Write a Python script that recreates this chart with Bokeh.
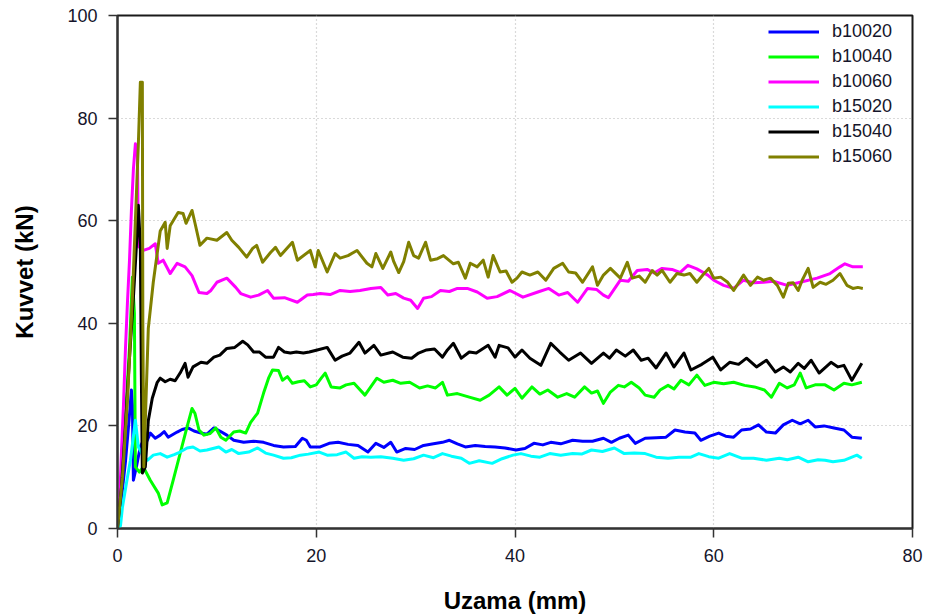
from bokeh.plotting import figure
from bokeh.models import Range1d, FixedTicker, Legend, LegendItem
from bokeh.embed import file_html
from bokeh.resources import INLINE

# ---- data (Uzama mm, Kuvvet kN) ----
b10020 = [(0,0),(0.4,6),(0.8,13),(1.2,22),(1.4,27),(1.5,24),(1.6,9.4),(1.9,12),(2.3,16),(2.7,17.5),(3.0,17.2),(3.3,18.6),(3.8,17.6),(4.3,18.2),(4.7,18.9),(5.1,17.8),(6.0,18.8),(6.5,19.3),(7.1,19.6),(7.7,19.0),(8.4,18.6),(9.0,18.4),(9.7,19.6),(10.3,19.0),(11.0,18.2),(11.7,17.2),(12.7,16.8),(13.7,17.0),(14.7,16.8),(15.7,16.2),(16.7,15.9),(17.9,16.0),(18.6,17.6),(19.0,17.2),(19.4,15.9),(20.4,15.9),(21.3,16.6),(22.2,16.8),(23.2,16.4),(24.2,16.2),(25.2,14.9),(26.0,16.6),(26.8,15.8),(27.5,16.8),(28.1,14.9),(29.0,15.6),(29.9,15.4),(30.8,16.2),(31.8,16.5),(32.7,16.8),(33.4,17.2),(34.2,16.5),(35.0,15.9),(36.0,16.2),(37.0,16.0),(38.0,15.9),(39.0,15.7),(40.1,15.3),(41.0,15.6),(41.9,16.6),(42.8,16.3),(43.6,16.8),(44.6,16.5),(45.8,17.2),(46.8,17.0),(47.8,17.0),(48.9,17.6),(49.7,16.8),(50.5,17.6),(51.4,18.2),(52.1,16.6),(53.1,17.6),(54.2,17.7),(55.2,17.8),(56.1,19.2),(57.1,18.8),(58.1,18.6),(58.7,17.2),(59.6,18.0),(60.5,18.6),(61.2,18.0),(62.0,17.8),(62.8,19.2),(63.7,19.4),(64.5,20.2),(65.3,18.8),(66.2,18.6),(67.0,20.2),(67.9,21.1),(68.7,20.4),(69.5,21.1),(70.2,19.8),(71.1,20.0),(72.1,19.6),(73.1,19.2),(73.9,17.8),(74.9,17.6)]

b10040 = [(0,0),(0.4,10),(0.8,22),(1.2,35),(1.5,49),(1.7,42),(1.8,12),(2.2,11),(2.6,12),(3.3,9.4),(4.1,6.9),(4.5,4.6),(5.0,5.0),(5.6,9.4),(6.3,14.6),(7.0,19.8),(7.5,23.4),(7.8,22.4),(8.2,19.2),(8.7,18.2),(9.3,18.5),(9.9,19.6),(10.4,17.8),(10.9,17.2),(11.7,18.8),(12.3,19.0),(12.9,18.6),(13.4,20.7),(14.1,22.5),(14.7,26.4),(15.2,29.3),(15.6,30.9),(16.2,30.8),(16.6,28.9),(17.1,29.6),(17.6,28.3),(18.2,28.6),(18.8,28.8),(19.4,27.6),(20.0,28.0),(20.5,29.3),(20.9,30.3),(21.5,27.6),(22.4,27.4),(23.0,28.0),(23.8,28.3),(24.9,26.0),(26.1,29.3),(26.8,28.5),(27.7,28.9),(28.5,28.3),(29.4,28.5),(30.4,27.4),(31.2,27.8),(32.0,27.4),(32.7,28.5),(33.2,26.0),(34.2,26.3),(35.4,25.6),(36.5,25.0),(37.4,26.0),(38.4,27.6),(39.2,26.0),(40.0,27.3),(40.7,25.4),(41.7,27.6),(42.5,26.2),(43.3,27.0),(44.3,25.6),(45.2,26.3),(46.0,25.6),(47.0,27.6),(47.7,26.4),(48.3,26.8),(48.9,24.4),(49.6,26.6),(50.4,27.9),(51.0,27.6),(51.7,28.5),(52.5,27.4),(53.1,26.0),(54.0,25.6),(54.6,27.0),(55.4,27.9),(56.0,27.2),(56.7,28.9),(57.5,28.0),(58.3,29.9),(59.1,27.9),(60.0,28.5),(61.0,28.2),(62.0,28.5),(63.1,27.9),(64.1,27.6),(65.1,27.0),(65.8,25.6),(66.6,28.3),(67.4,27.4),(68.1,28.0),(68.7,30.3),(69.3,27.4),(70.2,28.0),(71.2,28.0),(72.1,27.0),(73.1,28.3),(73.9,28.0),(74.9,28.5)]

b10060 = [(0,0),(0.2,5),(0.4,15),(0.6,24),(0.8,35),(1.0,44),(1.2,52),(1.4,62),(1.6,70),(1.8,75),(2.0,74),(2.1,55),(2.6,54.2),(3.2,54.6),(3.8,55.5),(4.1,51.7),(4.6,52.3),(5.3,49.7),(6.0,51.7),(6.8,51.0),(7.5,49.3),(8.2,46.0),(9.0,45.8),(9.4,46.4),(10.0,48.0),(11.0,48.8),(11.9,47.0),(12.4,45.8),(13.4,45.1),(14.2,45.5),(15.1,46.4),(15.7,44.9),(16.8,45.0),(18.1,44.1),(19.1,45.5),(19.7,45.6),(20.4,45.8),(21.4,45.6),(22.4,46.4),(23.4,46.2),(24.4,46.4),(25.5,46.8),(26.5,47.0),(27.2,45.5),(28.0,45.8),(28.8,44.9),(29.5,44.5),(30.2,42.9),(30.8,44.9),(31.6,45.2),(32.5,46.4),(33.4,46.2),(34.2,46.8),(35.2,46.8),(36.2,46.1),(37.2,44.9),(38.2,45.2),(39.5,46.4),(40.8,45.1),(42.3,46.1),(43.4,46.8),(44.4,45.5),(45.3,46.0),(46.3,44.1),(47.3,46.8),(48.2,46.6),(48.9,45.5),(49.4,45.0),(49.9,46.4),(50.6,48.4),(51.4,48.2),(52.3,50.3),(53.3,50.5),(54.0,49.8),(54.8,50.7),(55.8,50.5),(56.6,49.9),(57.4,51.3),(58.3,50.6),(59.4,49.4),(60.0,48.4),(61.0,47.4),(62.0,46.8),(63.0,48.4),(64.0,47.9),(65.0,48.0),(66.0,48.2),(67.4,47.4),(68.7,48.0),(70.4,48.8),(71.7,49.7),(72.7,51.0),(73.2,51.6),(74.0,51.0),(75.0,51.0)]

b15020 = [(0,0),(0.3,0.5),(0.5,4.2),(1.0,10.0),(1.3,13.3),(1.8,21.1),(2.1,15.9),(2.5,14.5),(3.0,13.3),(3.6,14.3),(4.3,14.6),(5.0,13.9),(5.7,14.4),(6.3,14.9),(7.0,15.7),(7.6,15.9),(8.3,15.1),(9.0,15.3),(9.6,15.6),(10.2,15.9),(10.9,14.9),(11.5,15.4),(12.2,14.6),(13.2,14.9),(14.1,15.7),(14.9,14.7),(15.7,14.3),(16.7,13.7),(17.5,13.8),(18.4,14.3),(19.2,14.5),(20.3,14.9),(21.1,14.3),(22.1,14.4),(23.0,14.9),(23.8,13.7),(24.6,14.0),(25.5,13.9),(26.5,14.0),(27.7,13.7),(28.8,13.3),(29.8,13.6),(30.8,14.3),(31.8,13.8),(32.7,14.6),(33.6,14.1),(34.6,13.7),(35.4,12.7),(36.4,13.2),(37.7,12.7),(38.7,13.6),(39.8,14.3),(40.6,14.6),(41.6,14.1),(42.5,13.9),(43.5,14.6),(44.6,14.3),(45.8,14.6),(46.7,14.5),(47.7,15.3),(48.8,15.0),(50.0,15.7),(51.0,14.6),(52.0,14.7),(53.1,14.6),(54.2,13.9),(55.4,13.7),(56.5,13.9),(57.7,13.9),(58.5,14.6),(59.5,14.0),(60.5,13.7),(61.6,14.6),(62.8,13.7),(64.0,13.7),(65.3,13.3),(66.6,13.7),(67.4,13.4),(68.5,13.9),(69.5,13.0),(70.5,13.4),(71.2,13.3),(72.0,13.0),(73.1,13.3),(74.4,14.3),(74.9,13.7)]

b15040 = [(0,0),(0.4,8),(0.8,20),(1.2,33),(1.6,45),(1.9,55),(2.1,63),(2.3,55),(2.4,30),(2.5,10.8),(2.8,12),(3.1,21),(3.5,25.4),(4.0,28.5),(4.3,29.3),(4.8,28.6),(5.3,29.1),(5.8,28.8),(6.3,30.3),(6.8,32.2),(7.1,29.5),(7.6,31.5),(8.4,32.4),(9.0,32.2),(9.7,33.4),(10.3,33.8),(11.0,35.1),(11.8,35.3),(12.6,36.5),(13.1,35.8),(13.7,34.4),(14.3,34.4),(14.9,33.4),(15.7,33.4),(16.2,35.3),(16.8,34.4),(17.4,34.2),(18.0,34.4),(18.7,34.2),(19.3,34.4),(20.1,34.8),(21.1,35.3),(21.9,32.8),(22.6,33.6),(23.4,34.2),(24.3,36.3),(24.9,34.2),(25.8,35.7),(26.5,33.8),(27.7,34.4),(28.7,33.4),(29.6,33.2),(30.3,34.2),(31.1,34.8),(31.9,35.0),(32.7,33.4),(33.2,34.8),(33.8,36.1),(34.6,33.2),(35.4,34.4),(36.1,34.2),(37.3,35.7),(38.0,33.4),(38.4,35.7),(39.3,35.2),(40.0,33.4),(40.7,34.8),(41.5,33.2),(42.6,31.8),(43.6,36.1),(44.5,34.4),(45.4,32.8),(46.6,34.2),(47.7,32.2),(48.9,34.2),(49.5,33.2),(50.2,34.8),(51.1,33.6),(51.9,34.8),(52.7,32.8),(53.4,33.2),(54.2,31.3),(55.2,34.2),(56.0,31.5),(57.0,34.2),(57.7,30.9),(58.8,32.0),(59.9,33.4),(60.7,30.9),(61.6,32.4),(62.5,32.0),(63.3,33.2),(64.3,31.5),(65.3,32.8),(66.2,30.5),(67.0,31.5),(67.7,30.5),(68.5,32.2),(69.1,31.2),(69.8,32.8),(70.6,30.3),(71.8,32.4),(72.5,31.5),(73.1,31.8),(73.9,28.9),(74.9,32.2)]

b15060 = [(0,0),(0.5,10),(1.0,25),(1.5,45),(1.9,65),(2.1,75),(2.3,87),(2.5,87),(2.55,40),(2.65,12),(3.1,39),(3.6,48),(4.3,58),(4.8,59.7),(5.0,54.6),(5.3,59),(6.1,61.6),(6.6,61.4),(6.9,59.5),(7.5,62),(7.8,59.5),(8.3,55.2),(9.0,56.6),(10.0,56.2),(11.0,57.7),(11.5,56.2),(12.2,54.8),(13.0,52.9),(13.6,54.6),(14.0,55.2),(14.6,51.9),(15.4,53.8),(15.9,54.8),(16.4,53.2),(17.6,55.8),(18.1,52.3),(19.4,54.2),(19.9,51.0),(20.2,54.2),(21.1,50.0),(21.9,53.6),(22.4,52.7),(23.2,53.2),(24.1,54.2),(25.1,51.7),(25.6,51.0),(26.0,53.6),(26.7,50.7),(27.5,53.9),(27.8,52.0),(28.3,49.9),(28.8,52.0),(29.3,55.8),(29.8,53.2),(30.3,52.7),(31.0,55.8),(31.5,52.3),(32.2,52.6),(32.8,53.2),(33.8,51.6),(34.3,51.9),(35.0,48.8),(35.5,51.7),(36.2,51.0),(36.8,52.3),(37.3,49.0),(37.8,53.2),(38.5,50.0),(39.1,50.2),(39.7,48.0),(40.2,48.8),(40.7,50.0),(41.5,49.4),(42.3,50.0),(43.1,48.4),(43.9,50.7),(44.8,51.7),(45.4,50.0),(46.1,49.8),(46.8,48.0),(47.8,51.0),(48.3,47.4),(48.9,49.4),(49.6,50.7),(50.6,48.8),(51.3,51.9),(51.8,48.8),(52.5,49.2),(53.1,48.0),(53.8,50.3),(54.3,49.4),(54.8,50.3),(55.6,48.0),(56.3,49.7),(57.0,49.4),(57.6,49.7),(58.3,48.0),(58.9,49.4),(59.5,50.7),(60.0,48.8),(60.7,49.0),(61.4,48.0),(62.0,46.4),(63.0,49.4),(63.7,47.4),(64.4,49.0),(65.0,48.4),(65.7,48.8),(66.4,47.4),(67.0,45.1),(67.5,47.8),(68.0,47.9),(68.5,46.4),(68.9,48.4),(69.5,50.7),(70.0,47.0),(70.7,48.0),(71.3,47.6),(72.0,48.4),(72.7,49.7),(73.4,47.4),(74.0,46.8),(74.5,47.0),(75.0,46.8)]

series_names = ["b10020", "b10040", "b10060", "b15020", "b15040", "b15060"]
series_data = [b10020, b10040, b10060, b15020, b15040, b15060]
series_colors = ["#0000FF", "#00FF00", "#FF00FF", "#00FFFF", "#000000", "#808000"]

x_ticks = [0, 20, 40, 60, 80]
y_ticks = [0, 20, 40, 60, 80, 100]

p = figure(width=925, height=616, output_backend="svg", toolbar_location=None,
           x_range=Range1d(0, 80), y_range=Range1d(0, 100),
           min_border_left=117, min_border_right=13, min_border_top=15, min_border_bottom=88)
p.background_fill_color = "white"
p.border_fill_color = "white"
p.outline_line_color = "#1a1a1a"
p.outline_line_width = 2

for ax in (p.xaxis[0], p.yaxis[0]):
    ax.axis_line_color = "#333333"
    ax.axis_line_width = 2
    ax.major_tick_line_color = "#333333"
    ax.major_tick_line_width = 1.5
    ax.major_tick_out = 9
    ax.major_tick_in = 0
    ax.minor_tick_line_color = None
    ax.major_label_text_font = "Liberation Sans"
    ax.major_label_text_font_size = "18px"
    ax.major_label_text_color = "#15152a"
    ax.axis_label_text_font = "Liberation Sans"
    ax.axis_label_text_font_size = "24px"
    ax.axis_label_text_font_style = "bold"
    ax.axis_label_text_color = "black"
    ax.major_label_standoff = 11

p.xaxis.ticker = FixedTicker(ticks=x_ticks)
p.yaxis.ticker = FixedTicker(ticks=y_ticks)
p.xaxis.axis_label = "Uzama (mm)"
p.yaxis.axis_label = "Kuvvet (kN)"
p.xaxis.axis_label_standoff = 22
p.yaxis.axis_label_standoff = 26

for g in (p.xgrid[0], p.ygrid[0]):
    g.grid_line_color = "#b5b5b5"
    g.grid_line_width = 1.2
    g.grid_line_dash = "1 3"

items = []
for name, data, col in zip(series_names, series_data, series_colors):
    xs = [pt[0] for pt in data]
    ys = [pt[1] for pt in data]
    r = p.line(xs, ys, line_color=col, line_width=3, line_join="round")
    items.append(LegendItem(label=name, renderers=[r]))

legend = Legend(items=items, location=(651, 359), padding=0, spacing=0, margin=0,
                glyph_width=51, glyph_height=25, label_height=25, label_standoff=13,
                label_text_font="Liberation Sans", label_text_font_size="18px",
                label_text_color="#15152a", background_fill_alpha=0, border_line_alpha=0)
p.add_layout(legend)

open("out.html", "w").write(file_html(p, INLINE))
